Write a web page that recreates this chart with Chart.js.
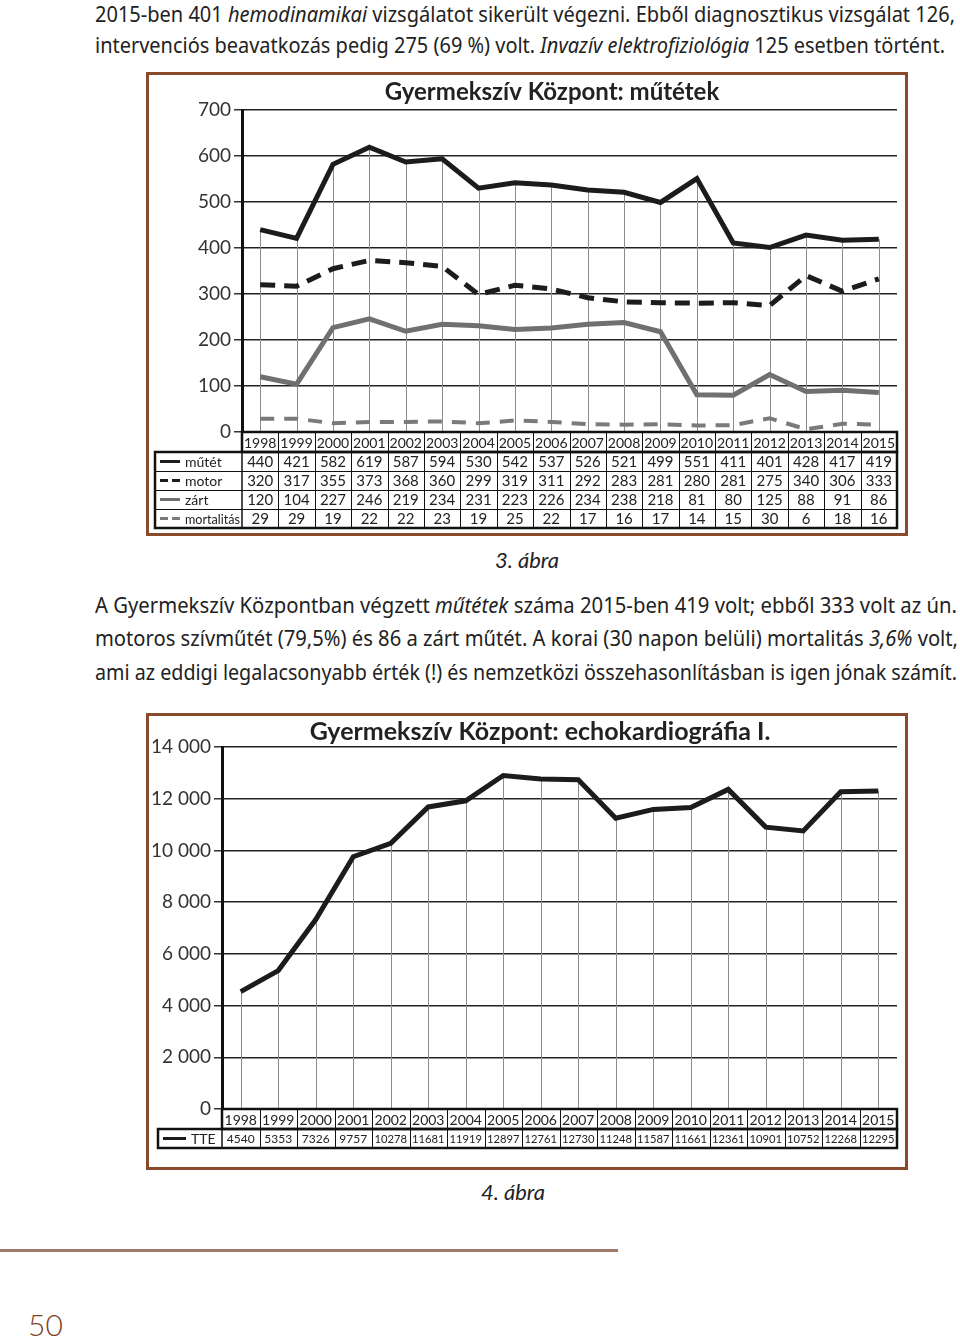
<!DOCTYPE html>
<html>
<head>
<meta charset="utf-8">
<script src="https://cdn.jsdelivr.net/npm/chart.js@4.4.0/dist/chart.umd.min.js"></script>
<style>
body { margin:0; width:960px; height:1340px; background:#fff; position:relative; overflow:hidden; font-family:'Liberation Sans Narrow','Noto Sans',sans-serif; color:#222; }
.line { position:absolute; white-space:nowrap; font-size:21px; line-height:26px; transform-origin:0 50%; }
.frame { position:absolute; border:3px solid #8a4a2c; box-sizing:border-box; }
.chartbox { position:absolute; }
.caption { position:absolute; font-family:Lato,sans-serif; font-style:italic; font-size:22px; line-height:26px; transform:translateX(-50%); color:#222; }
.rule { position:absolute; left:0; top:1249px; width:618px; height:3px; background:#9e7b66; }
.pageno { position:absolute; left:28px; top:1306px; font-family:Lato,sans-serif; font-weight:300; font-size:30px; color:#7b3f1f; }
</style>
</head>
<body>

<div class="line" data-w="860" style="left:95px; top:1px;">2015-ben 401 <i>hemodinamikai</i> vizsgálatot sikerült végezni. Ebből diagnosztikus vizsgálat 126,</div>
<div class="line" data-w="850" style="left:95px; top:32px;">intervenciós beavatkozás pedig 275 (69 %) volt. <i>Invazív elektrofiziológia</i> 125 esetben történt.</div>

<div class="frame" style="left:146px; top:72px; width:762px; height:464px;"></div>
<canvas id="c1" class="chartbox" width="800" height="460" style="left:152px; top:75px;"></canvas>
<div class="caption" style="left:527px; top:547px;">3. ábra</div>

<div class="line" data-w="862" style="left:95px; top:592px;">A Gyermekszív Központban végzett <i>műtétek</i> száma 2015-ben 419 volt; ebből 333 volt az ún.</div>
<div class="line" data-w="863" style="left:95px; top:625px;">motoros szívműtét (79,5%) és 86 a zárt műtét. A korai (30 napon belüli) mortalitás <i>3,6%</i> volt,</div>
<div class="line" data-w="862" style="left:95px; top:659px;">ami az eddigi legalacsonyabb érték (!) és nemzetközi összehasonlításban is igen jónak számít.</div>

<div class="frame" style="left:146px; top:713px; width:762px; height:457px;"></div>
<canvas id="c2" class="chartbox" width="780" height="452" style="left:150px; top:716px;"></canvas>
<div class="caption" style="left:513px; top:1179px;">4. ábra</div>

<div class="rule"></div>
<div class="pageno">50</div>

<script>
// adatok
const years = ['1998','1999','2000','2001','2002','2003','2004','2005','2006','2007','2008','2009','2010','2011','2012','2013','2014','2015'];
const mutet = [440,421,582,619,587,594,530,542,537,526,521,499,551,411,401,428,417,419];
const motor = [320,317,355,373,368,360,299,319,311,292,283,281,280,281,275,340,306,333];
const zart = [120,104,227,246,219,234,231,223,226,234,238,218,81,80,125,88,91,86];
const mortalitas = [29,29,19,22,22,23,19,25,22,17,16,17,14,15,30,6,18,16];
const tte = [4540,5353,7326,9757,10278,11681,11919,12897,12761,12730,11248,11587,11661,12361,10901,10752,12268,12295];

// fit text lines to their width
document.querySelectorAll('.line').forEach(el => {
    const w = el.getBoundingClientRect().width;
    el.style.transform = 'scaleX(' + (Number(el.dataset.w) / w) + ')';
});

// title centred on the whole canvas, not only the padded box
const wideTitle = {
    id: 'wideTitle',
    afterLayout(chart) {
        const t = chart.titleBlock;
        if (t) { t.left = 0; t.right = chart.width; t.width = chart.width; }
    }
};

// drop lines from highest point to the axis
const dropLines = {
    id: 'dropLines',
    beforeDatasetsDraw(chart) {
        const {ctx, chartArea} = chart;
        const metas = chart.data.datasets.map((d, i) => chart.getDatasetMeta(i));
        ctx.save();
        ctx.strokeStyle = '#8c8c8c';
        ctx.lineWidth = 1;
        chart.data.labels.forEach((l, i) => {
            const top = Math.min(...metas.map(m => m.data[i].y));
            const x = Math.round(metas[0].data[i].x) + 0.5;
            ctx.beginPath();
            ctx.moveTo(x, top);
            ctx.lineTo(x, chartArea.bottom);
            ctx.stroke();
        });
        ctx.restore();
    }
};

// data table under the plot
const dataTable = {
    id: 'dataTable',
    afterDraw(chart, args, opts) {
        const {ctx, chartArea} = chart;
        const x = chart.scales.x;
        const labels = chart.data.labels;
        const sets = chart.data.datasets;
        const n = labels.length;
        const cw = x.width / n;
        const left = x.left, right = x.right;
        const top = chartArea.bottom;
        const hh = opts.headH, rh = opts.rowH;
        const hl = opts.headLeft;
        const bottom = top + hh + rh * sets.length;
        ctx.save();
        ctx.strokeStyle = '#111';
        ctx.lineWidth = 1;
        ctx.beginPath();
        for (let i = 1; i < n; i++) {
            const xx = Math.round(left + i * cw) + 0.5;
            ctx.moveTo(xx, top);
            ctx.lineTo(xx, bottom);
        }
        for (let r = 1; r < sets.length; r++) {
            const yy = Math.round(top + hh + r * rh) + 0.5;
            ctx.moveTo(hl, yy);
            ctx.lineTo(right, yy);
        }
        ctx.stroke();
        ctx.lineWidth = 2.5;
        ctx.strokeRect(left, top, right - left, hh);
        ctx.strokeRect(hl, top + hh, right - hl, rh * sets.length);
        ctx.beginPath();
        ctx.moveTo(left, top + hh);
        ctx.lineTo(left, bottom);
        ctx.lineWidth = 1.5;
        ctx.stroke();

        ctx.fillStyle = '#222';
        ctx.textAlign = 'center';
        ctx.textBaseline = 'middle';
        ctx.font = opts.yearFont;
        labels.forEach((l, i) => ctx.fillText(l, x.getPixelForValue(i), top + hh / 2 + 1, cw - 3));

        sets.forEach((ds, r) => {
            const cy = top + hh + r * rh + rh / 2;
            ctx.save();
            ctx.strokeStyle = ds.borderColor;
            ctx.lineWidth = 3;
            ctx.setLineDash(ds.borderDash ? [8, 4] : []);
            ctx.beginPath();
            ctx.moveTo(hl + 5, cy);
            ctx.lineTo(hl + opts.sampleW, cy);
            ctx.stroke();
            ctx.restore();
            ctx.textAlign = 'left';
            ctx.font = opts.headFont;
            ctx.fillText(ds.label, hl + opts.sampleW + 5, cy + 1, left - hl - opts.sampleW - 7);
            ctx.textAlign = 'center';
            ctx.font = opts.valueFont;
            ds.data.forEach((v, i) => ctx.fillText(String(v), x.getPixelForValue(i), cy + 1, cw - 5));
        });
        ctx.restore();
    }
};

const base = {
    responsive: false,
    animation: false,
    elements: { point: { radius: 0 }, line: { tension: 0, borderCapStyle: 'butt', borderJoinStyle: 'miter' } },
};

new Chart(document.getElementById('c1'), {
    type: 'line',
    data: {
        labels: years,
        datasets: [
            { label: 'műtét', data: mutet, borderColor: '#1c1c1c', borderWidth: 5 },
            { label: 'motor', data: motor, borderColor: '#1c1c1c', borderWidth: 5, borderDash: [15, 9] },
            { label: 'zárt', data: zart, borderColor: '#707070', borderWidth: 5 },
            { label: 'mortalitás', data: mortalitas, borderColor: '#7a7a7a', borderWidth: 4, borderDash: [14, 10] }
        ]
    },
    options: {
        ...base,
        layout: { padding: { left: 0, right: 55, top: 0, bottom: 0 } },
        plugins: {
            legend: { display: false },
            tooltip: { enabled: false },
            title: { display: true, text: 'Gyermekszív Központ: műtétek', color: '#222',
                font: { family: 'Lato', size: 24, weight: 'bold' }, padding: { top: 3, bottom: 3.2 } },
            dataTable: { headH: 20, rowH: 19, headLeft: 3, sampleW: 25,
                yearFont: '14px Lato', headFont: '14px Lato', valueFont: '15px Lato' }
        },
        scales: {
            x: { offset: true, grid: { display: false }, ticks: { display: false }, border: { display: false },
                afterFit: s => { s.height = 103; } },
            y: { min: 0, max: 700,
                ticks: { stepSize: 100, color: '#333', padding: 3, font: { family: 'Lato', size: 19 } },
                grid: { color: '#222', lineWidth: 1.5, tickLength: 8, tickColor: '#333' },
                border: { color: '#111', width: 3 },
                afterFit: s => { s.width = 90; } }
        }
    },
    plugins: [wideTitle, dropLines, dataTable]
});

new Chart(document.getElementById('c2'), {
    type: 'line',
    data: {
        labels: years,
        datasets: [
            { label: 'TTE', data: tte, borderColor: '#1c1c1c', borderWidth: 5 }
        ]
    },
    options: {
        ...base,
        layout: { padding: { left: 0, right: 33, top: 0, bottom: 0 } },
        plugins: {
            legend: { display: false },
            tooltip: { enabled: false },
            title: { display: true, text: 'Gyermekszív Központ: echokardiográfia I.', color: '#222',
                font: { family: 'Lato', size: 25, weight: 'bold' }, padding: { top: 1, bottom: 0 } },
            dataTable: { headH: 20, rowH: 19, headLeft: 8, sampleW: 28,
                yearFont: '14px Lato', headFont: '14px Lato', valueFont: '12px Lato' }
        },
        scales: {
            x: { offset: true, grid: { display: false }, ticks: { display: false }, border: { display: false },
                afterFit: s => { s.height = 59; } },
            y: { min: 0, max: 14000,
                ticks: { stepSize: 2000, color: '#333', padding: 3, font: { family: 'Lato', size: 19 },
                    callback: v => String(v).replace(/\B(?=(\d{3})+(?!\d))/g, ' ') },
                grid: { color: '#222', lineWidth: 1.5, tickLength: 8, tickColor: '#333' },
                border: { color: '#111', width: 3 },
                afterFit: s => { s.width = 72; } }
        }
    },
    plugins: [wideTitle, dropLines, dataTable]
});
</script>
</body>
</html>
